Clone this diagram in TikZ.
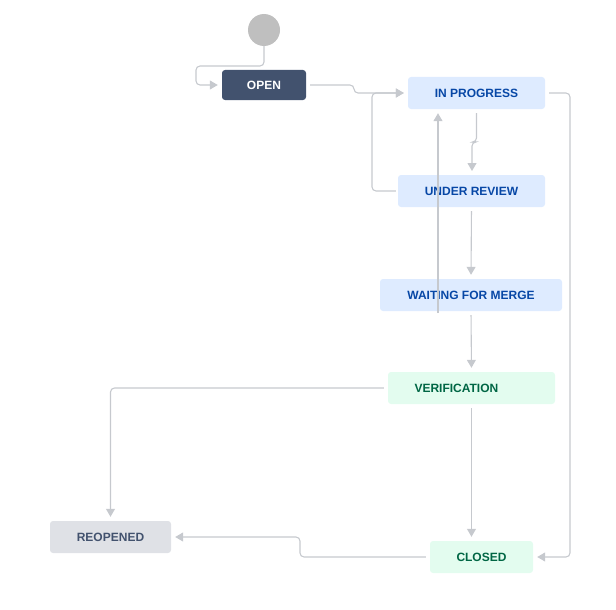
\documentclass[tikz,border=0pt]{standalone}
\usepackage{fontspec}
\setmainfont{Liberation Sans}
\usepackage{tikz}
\usetikzlibrary{positioning,arrows.meta}

\definecolor{linegray}{HTML}{C6C9CE}
\definecolor{startgray}{HTML}{BFBFBF}
\definecolor{opendark}{HTML}{42526E}
\definecolor{bluefill}{HTML}{DEEBFF}
\definecolor{bluetext}{HTML}{0747A6}
\definecolor{greenfill}{HTML}{E3FCEF}
\definecolor{greentext}{HTML}{006644}
\definecolor{grayfill}{HTML}{DFE1E6}
\definecolor{graytext}{HTML}{42526E}

\tikzset{
  state/.style={rectangle, rounded corners=3pt, minimum height=32pt, inner sep=0pt,
    font=\fontsize{12}{14}\selectfont\bfseries},
  todo/.style={state, fill=opendark, text=white, minimum height=30pt},
  doing/.style={state, fill=bluefill, text=bluetext},
  done/.style={state, fill=greenfill, text=greentext},
  again/.style={state, fill=grayfill, text=graytext},
  flow/.style={draw=linegray, line width=1.1pt, rounded corners=4pt,
    -{Triangle[length=8pt,width=9pt]}, shorten <=4pt, shorten >=4pt}
}

\begin{document}
\begin{tikzpicture}[x=1pt,y=-1pt]
\useasboundingbox (0,0) rectangle (616,610);
\node[circle, fill=startgray, minimum size=32pt, inner sep=0pt] (node_start) at (264,30) {};
\node[todo, minimum width=84pt] (node_open) at (264,85) {OPEN};
\node[doing, minimum width=137pt] (node_progress) at (476.5,93) {IN PROGRESS};
\node[doing, minimum width=147pt] (node_review) at (471.5,191) {UNDER REVIEW};
\node[doing, minimum width=182pt] (node_wait) at (471,295) {WAITING FOR MERGE};
\node[done, text width=114pt, inner xsep=26.5pt, align=left] (node_verif) at (471.5,388) {VERIFICATION};
\node[again, minimum width=121pt] (node_reopened) at (110.5,537) {REOPENED};
\node[done, minimum width=103pt] (node_closed) at (481.5,557) {CLOSED};
\coordinate (back_start) at (438,313);

\draw[flow, shorten <=0pt] (node_start.south) |- (196,66) |- (node_open.west);
\draw[flow] (node_open.east) -- (354,85) |- (node_progress.west);
\draw[flow, shorten <=2pt] (node_review.west) -- (372,191) |- (node_progress.west);
\draw[flow] (node_progress.south) |- (472,142) -- (472,175);
\draw[flow] (node_review.south) -- (node_wait.north);
\draw[flow, shorten <=0pt] (back_start) -- (back_start |- node_progress.south);
\draw[flow] (node_wait.south) -- (node_verif.north);
\draw[flow] (node_progress.east) -- (570,93) |- (node_closed.east);
\draw[flow] (node_verif.west) -| (node_reopened.north);
\draw[flow] (node_verif.south) -- (node_verif.south |- node_closed.north);
\draw[flow] (node_closed.west) -- (300,557) |- (node_reopened.east);
\end{tikzpicture}
\end{document}
